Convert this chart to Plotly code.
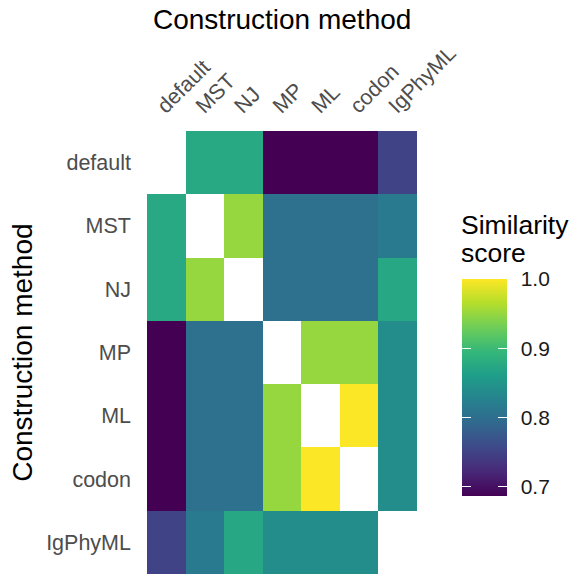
import plotly.graph_objects as go

# Tree construction methods compared pairwise
methods = ["default", "MST", "NJ", "MP", "ML", "codon", "IgPhyML"]

# Pairwise similarity scores, one row per method (None on the diagonal)
row_default = [None, 0.875, 0.875, 0.687, 0.687, 0.687, 0.750]
row_mst     = [0.875, None, 0.950, 0.803, 0.803, 0.803, 0.816]
row_nj      = [0.875, 0.950, None, 0.803, 0.803, 0.803, 0.873]
row_mp      = [0.687, 0.803, 0.803, None, 0.950, 0.950, 0.840]
row_ml      = [0.687, 0.803, 0.803, 0.950, None, 0.999, 0.840]
row_codon   = [0.687, 0.803, 0.803, 0.950, 0.999, None, 0.840]
row_igphyml = [0.750, 0.816, 0.873, 0.840, 0.840, 0.840, None]

colorbar_ticks = [0.7, 0.8, 0.9, 1.0]
colorbar_labels = ["0.7", "0.8", "0.9", "1.0"]

z = [row_default, row_mst, row_nj, row_mp, row_ml, row_codon, row_igphyml]
ZMIN, ZMAX = 0.687, 1.0

W, H = 575, 574
L, R, T, B = 146.7, 158.3, 131, 0
PW, PH = W - L - R, H - T - B

def px_x(x):
    return (x - L) / PW

def px_y(y):
    return (H - B - y) / PH

FONT = "Liberation Sans, Arial, sans-serif"

# colour bar geometry (pixels)
CB_LEFT, CB_THICK = 461.7, 44
CB_TOP, CB_LEN = 279, 217
TICK_LEN = 8.5


def colorbar(left, thickness, labels):
    cb = dict(
        x=px_x(left), xanchor="left", xpad=0,
        y=px_y(CB_TOP + CB_LEN / 2), yanchor="middle", ypad=0,
        lenmode="pixels", len=CB_LEN,
        thicknessmode="pixels", thickness=thickness,
        outlinewidth=0,
        tickvals=colorbar_ticks,
    )
    if labels:
        cb.update(ticktext=colorbar_labels, ticks="outside", ticklen=11,
                  tickcolor="rgba(0,0,0,0)",
                  tickfont=dict(family=FONT, size=21, color="#1a1a1a"))
    else:
        # narrow strip whose inside ticks form short white marks on the bar edge
        cb.update(showticklabels=False, ticks="inside", ticklen=thickness,
                  tickcolor="white", tickwidth=1)
    return cb


def heat(cb):
    return go.Heatmap(
        x=methods, y=methods, z=z, zmin=ZMIN, zmax=ZMAX,
        colorscale="Viridis", hoverongaps=False, colorbar=cb,
    )


fig = go.Figure([
    heat(colorbar(CB_LEFT, CB_THICK, True)),
    heat(colorbar(CB_LEFT, TICK_LEN, False)),
    heat(colorbar(CB_LEFT + CB_THICK - TICK_LEN, TICK_LEN, False)),
])

fig.update_xaxes(
    side="top", tickangle=-45, showgrid=False, zeroline=False,
    ticks="", ticklabelstandoff=8, ticklabelshift=-8,
    tickfont=dict(family=FONT, size=21.5, color="#4d4d4d"),
)
fig.update_yaxes(
    autorange="reversed", showgrid=False, zeroline=False,
    ticks="", ticklabelstandoff=15,
    tickfont=dict(family=FONT, size=21.5, color="#4d4d4d"),
)

fig.update_layout(
    width=W, height=H,
    margin=dict(l=L, r=R, t=T, b=B, pad=0),
    plot_bgcolor="white", paper_bgcolor="white",
    font=dict(family=FONT),
    annotations=[
        dict(text="Construction method", xref="paper", yref="paper",
             x=0.5, y=px_y(19), xanchor="center", yanchor="middle",
             showarrow=False, font=dict(family=FONT, size=28, color="black")),
        dict(text="Construction method", xref="paper", yref="paper",
             x=px_x(22), y=0.5, xanchor="center", yanchor="middle",
             textangle=-90, showarrow=False,
             font=dict(family=FONT, size=28, color="black")),
        dict(text="Similarity", xref="paper", yref="paper",
             x=px_x(459), y=px_y(225), xanchor="left", yanchor="middle",
             align="left", showarrow=False,
             font=dict(family=FONT, size=26.5, color="black")),
        dict(text="score", xref="paper", yref="paper",
             x=px_x(459), y=px_y(253), xanchor="left", yanchor="middle",
             align="left", showarrow=False,
             font=dict(family=FONT, size=26.5, color="black")),
    ],
)

fig.write_html("out.html")
